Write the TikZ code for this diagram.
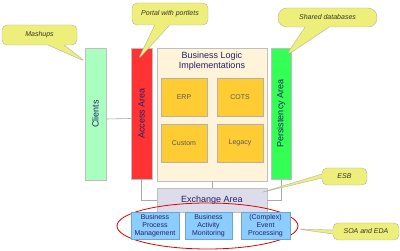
\documentclass[tikz,border=0pt]{standalone}
\usepackage{fontspec}
\setmainfont{Liberation Sans}
\definecolor{clientgreen}{RGB}{170,255,192}
\definecolor{accessred}{RGB}{255,51,51}
\definecolor{persistgreen}{RGB}{51,255,85}
\definecolor{logiccream}{RGB}{255,243,218}
\definecolor{implgold}{RGB}{255,204,51}
\definecolor{exchlav}{RGB}{220,220,234}
\definecolor{procblue}{RGB}{140,205,255}
\definecolor{notefill}{RGB}{238,238,122}
\definecolor{labelnavy}{RGB}{34,34,102}
\definecolor{linegray}{RGB}{170,170,170}
\usetikzlibrary{shapes.geometric,shapes.callouts}

\begin{document}
\begin{tikzpicture}[x=1pt, y=-1pt,
    layer/.style={rectangle, draw=black!25, line width=0.5pt, inner sep=0pt,
      font=\fontsize{9}{10}\selectfont, text=labelnavy},
    vlabel/.style={rotate=90, font=\fontsize{9}{10}\selectfont, text=labelnavy},
    implbox/.style={rectangle, draw=black!30, fill=implgold, minimum width=46pt, minimum height=38pt,
      font=\fontsize{7}{8}\selectfont, text=black!65},
    procbox/.style={rectangle, draw=procblue!80!black, fill=procblue, minimum height=27pt, inner sep=1pt,
      align=center, font=\fontsize{7}{8}\selectfont, text=labelnavy},
    note/.style={rectangle callout, rounded corners=5pt, draw=black!30, fill=notefill, inner sep=0pt,
      font=\fontsize{7}{8}\selectfont\itshape, text=black!80},
    link/.style={draw=linegray, line width=0.6pt}
  ]
    \fill[white] (0,0) rectangle (400,251);
    \useasboundingbox (0,0) rectangle (400,251);

    \node[layer, fill=clientgreen, minimum width=21pt, minimum height=132pt,
      label={[vlabel]center:Clients}] (clients) at (95.5,114) {};
    \node[layer, fill=accessred, minimum width=21pt, minimum height=131pt,
      label={[vlabel]center:Access Area}] (access) at (141.5,113.5) {};
    \node[layer, fill=logiccream, minimum width=110pt, minimum height=133pt] (logic) at (212,114.5) {};
    \node[layer, draw=none, align=center] (logictitle) at (212,61) {Business Logic\\Implementations};
    \node[layer, fill=persistgreen, minimum width=20pt, minimum height=131pt,
      label={[vlabel]center:Persistency Area}] (persist) at (281,113.5) {};

    \node[implbox] (erp)    at (184,97)  {ERP};
    \node[implbox] (cots)   at (240,97)  {COTS};
    \node[implbox] (custom) at (184,143) {Custom};
    \node[implbox] (legacy) at (240,143) {Legacy};

    \node[layer, fill=exchlav, minimum width=110pt, minimum height=24pt] (exchange) at (212,200) {Exchange Area};

    \draw[link] ([yshift=-5pt]clients.east) -- ([yshift=-5pt]access.west);
    \draw[link] (access.south) |- (exchange.west);
    \draw[link] (logic.south) -- (exchange.north);
    \draw[link] (persist.south) |- (exchange.east);

    \node[ellipse, draw=red!90!black, line width=0.8pt, minimum width=181pt, minimum height=46pt,
      inner sep=0pt] (soa) at (207.5,226) {};

    \node[procbox, minimum width=48pt] (bpm) at (155,225.5)   {Business\\Process\\Management};
    \node[procbox, minimum width=47pt] (bam) at (208.5,225.5) {Business\\Activity\\Monitoring};
    \node[procbox, minimum width=49pt] (cep) at (265.5,225.5) {(Complex)\\Event\\Processing};

    \node[note, minimum width=75pt, minimum height=20pt, callout pointer width=16pt,
      callout absolute pointer={([xshift=1pt,yshift=-14pt]clients.north west)}] (mashups) at (39.5,35) {Mashups};
    \node[note, minimum width=76pt, minimum height=22pt, callout pointer width=15pt,
      callout absolute pointer={([xshift=-3.5pt,yshift=-12pt]access.north)}] (portal) at (170,14) {Portal with portlets};
    \node[note, rounded corners=9pt, minimum width=99pt, minimum height=19pt, callout pointer width=24pt,
      callout absolute pointer={([xshift=4pt,yshift=-9pt]persist.north)}] (shareddb) at (327.5,17.5) {Shared databases};
    \node[note, minimum width=45pt, minimum height=17pt, callout pointer width=4pt,
      callout absolute pointer={([xshift=-7pt,yshift=-5pt]exchange.north east)}] (esb) at (344.5,176.5) {ESB};
    \node[note, minimum width=66pt, minimum height=17pt, callout pointer width=4pt,
      callout absolute pointer={([xshift=-1pt,yshift=-3pt]soa.east)}] (soaeda) at (366,231.5) {SOA and EDA};
  \end{tikzpicture}
\end{document}
